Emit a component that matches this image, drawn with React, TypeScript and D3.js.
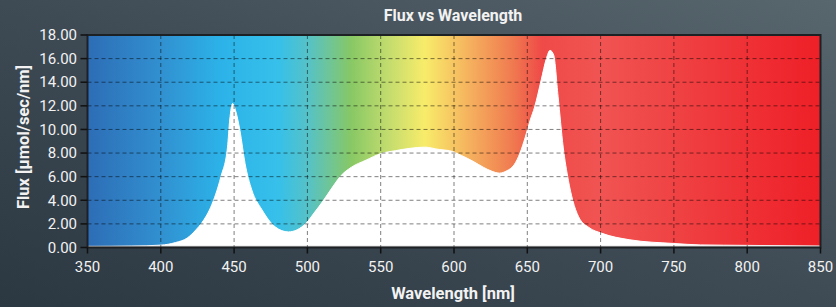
import React from "react";
import * as d3 from "d3";

const wavelengths = [350, 380, 400, 410, 418, 424, 428, 434, 441, 445.5, 447, 449, 451, 454, 457.5, 462, 469, 478, 487, 493, 499, 505, 511, 517, 523, 530, 540, 550, 560, 570, 580, 590, 597, 605, 613, 620, 626, 631, 636, 641, 645, 648.5, 652, 655, 659.5, 663, 665.5, 668, 671, 674.5, 678, 681, 685, 692, 701, 720, 750, 768, 800, 850];
const flux = [0.08, 0.12, 0.2, 0.42, 0.8, 1.5, 2.1, 3.4, 6.0, 8.5, 10.8, 12.2, 11.6, 9.9, 7.1, 4.9, 3.2, 1.75, 1.32, 1.5, 2.05, 3.0, 4.0, 5.1, 6.1, 6.8, 7.4, 7.95, 8.2, 8.4, 8.5, 8.3, 8.2, 7.8, 7.3, 6.8, 6.45, 6.3, 6.5, 7.0, 8.0, 9.3, 10.8, 11.9, 14.2, 16.0, 16.7, 16.3, 12.8, 8.5, 5.7, 4.0, 2.6, 1.7, 1.2, 0.65, 0.34, 0.22, 0.18, 0.12];

const xTicks = [350, 400, 450, 500, 550, 600, 650, 700, 750, 800, 850];
const yTicks = [0, 2, 4, 6, 8, 10, 12, 14, 16, 18];

const spectrumStops: [number, string][] = [
  [350, "#2d6db6"],
  [400, "#3190d0"],
  [440, "#2cb2e8"],
  [480, "#36c0ea"],
  [500, "#55c2c8"],
  [530, "#88c865"],
  [555, "#c2dc6e"],
  [580, "#f8ec6a"],
  [610, "#f5b25e"],
  [640, "#f07a50"],
  [660, "#ef4a48"],
  [700, "#f05452"],
  [850, "#ee1f27"],
];

const W = 836;
const H = 307;
const M = { left: 87.5, right: 820.5, top: 35, bottom: 247.5 };

export default function App() {
  const x = d3.scaleLinear().domain([350, 850]).range([M.left, M.right]);
  const y = d3.scaleLinear().domain([0, 18]).range([M.bottom, M.top]);
  const pts = wavelengths.map((w, i) => [w, flux[i]] as [number, number]);
  const area = d3
    .area<[number, number]>()
    .x((d) => x(d[0]))
    .y0(y(0))
    .y1((d) => y(d[1]))
    .curve(d3.curveMonotoneX)(pts) as string;
  const line = d3
    .line<[number, number]>()
    .x((d) => x(d[0]))
    .y((d) => y(d[1]))
    .curve(d3.curveMonotoneX)(pts) as string;

  const font = "Roboto, 'Noto Sans', sans-serif";
  return (
    <svg width={W} height={H} style={{ position: "absolute", left: 0, top: 0, display: "block" }}>
      <defs>
        <linearGradient id="bg" x1="0" y1="1" x2="1" y2="0">
          <stop offset="0" stopColor="#2b3741" />
          <stop offset="0.5" stopColor="#3e4a54" />
          <stop offset="1" stopColor="#58666e" />
        </linearGradient>
        <linearGradient id="spec" gradientUnits="userSpaceOnUse" x1={x(350)} y1="0" x2={x(850)} y2="0">
          {spectrumStops.map(([w, c], i) => (
            <stop key={i} offset={(w - 350) / 500} stopColor={c} />
          ))}
        </linearGradient>
        <clipPath id="plot">
          <rect x={M.left} y={M.top} width={M.right - M.left} height={M.bottom - M.top} />
        </clipPath>
      </defs>
      <rect x={0} y={0} width={W} height={H} fill="url(#bg)" />
      <rect x={M.left} y={M.top} width={M.right - M.left} height={M.bottom - M.top} fill="url(#spec)" />
      <g clipPath="url(#plot)">
        <path d={area} fill="#ffffff" />
        <path d={line} fill="none" stroke="#ffffff" strokeWidth={1} />
        <line x1={M.left} x2={M.right} y1={M.bottom - 1} y2={M.bottom - 1} stroke="#c8c8c8" strokeWidth={1.5} />
      </g>
      <g stroke="#000" strokeOpacity={0.5} strokeWidth={1} strokeDasharray="4,3">
        {xTicks.slice(1, -1).map((t) => (
          <line key={"gx" + t} x1={x(t)} x2={x(t)} y1={M.top} y2={M.bottom} />
        ))}
        {yTicks.slice(1, -1).map((t) => (
          <line key={"gy" + t} x1={M.left} x2={M.right} y1={y(t)} y2={y(t)} />
        ))}
      </g>
      <rect x={M.left} y={M.top} width={M.right - M.left} height={M.bottom - M.top} fill="none" stroke="#1e2124" strokeWidth={2} />
      <g stroke="#111" strokeWidth={1.5}>
        {xTicks.map((t) => (
          <line key={"tx" + t} x1={x(t)} x2={x(t)} y1={M.bottom} y2={M.bottom + 6} />
        ))}
        {yTicks.map((t) => (
          <line key={"ty" + t} x1={M.left - 7} x2={M.left} y1={y(t)} y2={y(t)} />
        ))}
      </g>
      <g fill="#f2f2f2" fontFamily={font} fontSize={15}>
        {xTicks.map((t) => (
          <text key={"lx" + t} x={x(t)} y={272} textAnchor="middle">
            {t}
          </text>
        ))}
        {yTicks.map((t) => (
          <text key={"ly" + t} x={77} y={y(t)} dy="0.35em" textAnchor="end">
            {t.toFixed(2)}
          </text>
        ))}
      </g>
      <text x={453} y={21} textAnchor="middle" fill="#f2f2f2" fontFamily={font} fontWeight="bold" fontSize={16}>
        Flux vs Wavelength
      </text>
      <text x={453} y={299} textAnchor="middle" fill="#f2f2f2" fontFamily={font} fontWeight="bold" fontSize={16.5}>
        Wavelength [nm]
      </text>
      <text
        transform={`translate(29,${137}) rotate(-90)`}
        textAnchor="middle"
        fill="#f2f2f2"
        fontFamily={font}
        fontWeight="bold"
        fontSize={16.5}
      >
        Flux [µmol/sec/nm]
      </text>
    </svg>
  );
}
